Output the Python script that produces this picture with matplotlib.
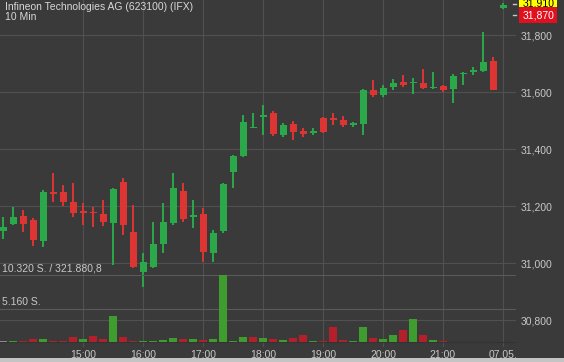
import matplotlib
matplotlib.use("Agg")
import matplotlib.pyplot as plt
from matplotlib.transforms import blended_transform_factory

plt.rcParams['font.family'] = ['Liberation Sans', 'DejaVu Sans']

title = "Infineon Technologies AG (623100) (IFX)"
interval = "10 Min"

# 10 minute candles, first one at 13:40, last one is the 07.05. quote
opens = [31.113, 31.137, 31.166, 31.151, 31.078, 31.250, 31.248, 31.213, 31.180, 31.180,
         31.171, 31.139, 31.285, 31.110, 30.967, 30.987, 31.066, 31.139, 31.253, 31.160,
         31.171, 31.034, 31.113, 31.320, 31.376, 31.473, 31.513, 31.525, 31.449, 31.488,
         31.464, 31.455, 31.508, 31.508, 31.502, 31.484, 31.488, 31.607, 31.589, 31.617,
         31.634, 31.631, 31.631, 31.613, 31.622, 31.609, 31.663, 31.671, 31.675, 31.709,
         31.894]
highs = [31.161, 31.195, 31.186, 31.159, 31.256, 31.317, 31.274, 31.280, 31.211, 31.195,
         31.221, 31.262, 31.297, 31.204, 31.034, 31.145, 31.209, 31.315, 31.280, 31.221,
         31.192, 31.116, 31.282, 31.379, 31.519, 31.525, 31.554, 31.533, 31.492, 31.498,
         31.473, 31.473, 31.513, 31.525, 31.516, 31.496, 31.609, 31.642, 31.625, 31.645,
         31.660, 31.648, 31.680, 31.671, 31.625, 31.663, 31.671, 31.689, 31.812, 31.722,
         31.911]
lows = [31.084, 31.133, 31.110, 31.060, 31.055, 31.215, 31.200, 31.162, 31.133, 31.127,
        31.130, 30.993, 31.098, 30.981, 30.917, 30.981, 31.034, 31.133, 31.145, 31.122,
        31.005, 31.005, 31.106, 31.262, 31.373, 31.473, 31.449, 31.446, 31.441, 31.432,
        31.443, 31.449, 31.457, 31.484, 31.478, 31.478, 31.449, 31.584, 31.584, 31.607,
        31.617, 31.593, 31.609, 31.609, 31.601, 31.560, 31.625, 31.660, 31.671, 31.607,
        31.890]
closes = [31.127, 31.162, 31.137, 31.081, 31.248, 31.242, 31.213, 31.174, 31.177, 31.174,
          31.145, 31.260, 31.133, 30.987, 31.005, 31.066, 31.145, 31.262, 31.153, 31.170,
          31.040, 31.106, 31.277, 31.375, 31.496, 31.478, 31.519, 31.453, 31.484, 31.461,
          31.453, 31.464, 31.461, 31.502, 31.484, 31.490, 31.607, 31.589, 31.613, 31.633,
          31.625, 31.636, 31.613, 31.617, 31.607, 31.656, 31.668, 31.677, 31.706, 31.607,
          31.906]
volumes = [200, 80, 150, 450, 450, 100, 100, 700, 450, 950,
           400, 3950, 700, 100, 80, 80, 300, 620, 420, 420,
           300, 520, 10320, 150, 750, 700, 650, 420, 250, 600,
           1050, 100, 120, 2340, 300, 200, 2340, 600, 420, 1050,
           1800, 3470, 1050, 250, 120, 40, 40, 40, 40, 40,
           0]
vol_dir = ['n', 'g', 'r', 'r', 'g', 'r', 'r', 'r', 'g', 'r',
           'r', 'g', 'r', 'r', 'g', 'g', 'g', 'g', 'r', 'g',
           'r', 'g', 'g', 'g', 'g', 'r', 'g', 'r', 'g', 'r',
           'r', 'g', 'r', 'r', 'r', 'g', 'g', 'r', 'g', 'g',
           'r', 'g', 'r', 'g', 'r', 'g', 'g', 'g', 'g', 'r',
           'g']

tick_labels = ['15:00', '16:00', '17:00', '18:00', '19:00', '20:00', '21:00', '07.05.']
price_ticks = [30.8, 31.0, 31.2, 31.4, 31.6, 31.8]
vol_levels = [10320, 5160]
vol_texts = ['10.320 S. / 321.880,8', '5.160 S.']
quote_ask = 31.910
quote_last = 31.870

BG = '#3a3a3a'
GRID = '#505050'
TXT = '#c8c8c8'
UP = '#2ba84a'
DOWN = '#dd3434'
VOL_COL = {'g': '#3f9c2e', 'r': '#b3202c', 'n': '#8a8a8a'}

W, H = 564, 362
fig = plt.figure(figsize=(W / 100, H / 100), dpi=100, facecolor=BG)
rect = [0, 15 / H, 516 / W, 347 / H]
ax = fig.add_axes(rect, facecolor=BG)
axv = fig.add_axes(rect, facecolor='none')

idx = list(range(len(opens)))
x0 = -0.3
ax.set_xlim(x0, x0 + 51.6)
axv.set_xlim(x0, x0 + 51.6)
ax.set_ylim(31.800 - 312 / 285, 31.800 + 35 / 285)
vs = 67 / 10320
axv.set_ylim(-5 / vs, 342 / vs)

# grid
for p in price_ticks:
    ax.axhline(p, color=GRID, lw=0.8, zorder=0)
tick_pos = []
for lab in tick_labels:
    if ':' in lab:
        h, m = lab.split(':')
        tick_pos.append((int(h) * 60 + int(m) - (13 * 60 + 40)) / 10)
    else:
        tick_pos.append(50)
for t in tick_pos:
    ax.axvline(t, color=GRID, lw=0.8, zorder=0)

# candles
for i in idx:
    o, hi, lo, c = opens[i], highs[i], lows[i], closes[i]
    col = UP if c >= o else DOWN
    ax.vlines(i, lo, hi, color=col, lw=1.4, zorder=3)
    bottom = min(o, c)
    height = max(abs(c - o), 0.005)
    ax.bar(i, height, bottom=bottom, width=0.7, color=col, lw=0, zorder=3)

# volume
for lvl, txt in zip(vol_levels, vol_texts):
    axv.axhline(lvl, color='#5a5a5a', lw=0.8, zorder=0)
    axv.text(x0 + 0.2, lvl + 300, txt, color=TXT, fontsize=7.5, va='bottom', ha='left')
axv.axhline(0, color='#333333', lw=0.8, zorder=1)
axv.bar(idx, volumes, width=0.75, color=[VOL_COL[d] for d in vol_dir], lw=0, zorder=2)
axv.set_xticks([])
axv.set_yticks([])
for s in axv.spines.values():
    s.set_visible(False)

ax.yaxis.tick_right()
ax.set_yticks(price_ticks)
ax.set_yticklabels([f"{p:.3f}".replace('.', ',') for p in price_ticks])
ax.set_xticks(tick_pos)
ax.set_xticklabels(tick_labels)
ax.tick_params(axis='y', length=0, pad=3, labelcolor=TXT, labelsize=7.5)
ax.tick_params(axis='x', length=0, pad=2, labelcolor=TXT, labelsize=7.5)
for s in ax.spines.values():
    s.set_visible(False)

# quote boxes on the right
tr = blended_transform_factory(ax.transAxes, ax.transData)
for q, fc, tc in [(quote_ask, '#ffff00', 'black'), (quote_last, '#e0101e', 'white')]:
    ax.plot([0.994, 1.0], [q, q], color=TXT, lw=1, transform=tr, clip_on=False)
    ax.text(1.012, q, f"{q:.3f}".replace('.', ','), transform=tr, color=tc,
            fontsize=7.5, va='center', ha='left', clip_on=False,
            bbox=dict(boxstyle='square,pad=0.28', fc=fc, ec='none'))

fig.text(5 / W, 1 - 2 / H, title, color='#d8d8d8', fontsize=7.5, va='top', ha='left')
fig.text(5 / W, 1 - 12 / H, interval, color='#d8d8d8', fontsize=7.5, va='top', ha='left')

# light strip at the bottom edge
fig.add_artist(plt.Rectangle((0, 0), 1, 4 / H, transform=fig.transFigure,
                             fc='#c4c4c4', ec='none'))

fig.savefig('out.png', dpi=100, facecolor=BG)
